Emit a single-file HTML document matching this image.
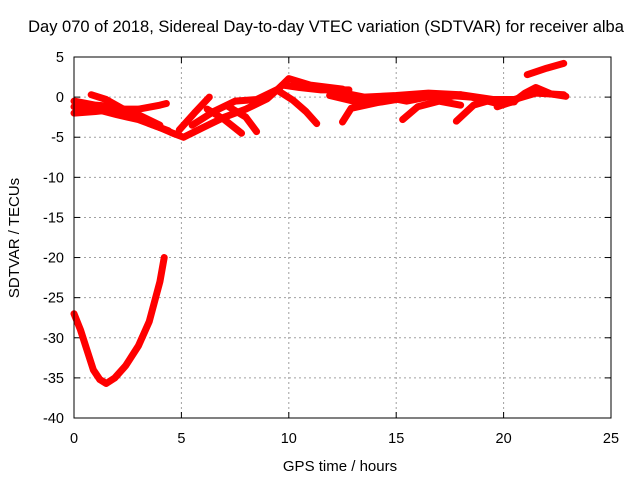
<!DOCTYPE html>
<html><head><meta charset="utf-8"><style>
html,body{margin:0;padding:0;background:#fff;}
svg{display:block;font-family:"Liberation Sans",sans-serif;}
</style></head><body>
<svg id="chart" width="640" height="480">
<text x="326" y="32" text-anchor="middle" font-size="16.5">Day 070 of 2018, Sidereal Day-to-day VTEC variation (SDTVAR) for receiver alba</text>
<text x="340" y="471" text-anchor="middle" font-size="15">GPS time / hours</text>
<text transform="translate(19,238) rotate(-90)" text-anchor="middle" font-size="15">SDTVAR / TECUs</text>
<g id="grid"></g><g id="ticks"></g><g id="marks"></g>
<rect x="74" y="57" width="537" height="361" fill="none" stroke="#000" stroke-width="1"/>
</svg>
<script>
const xTicks=[0,5,10,15,20,25];
const yTicks=[5,0,-5,-10,-15,-20,-25,-30,-35,-40];
const t1x=[0,0.3,0.6,0.9,1.2,1.5,1.9,2.4,3,3.5,4,4.2], t1y=[-27,-29,-31.5,-34,-35.2,-35.7,-35,-33.5,-31,-28,-23,-20];
const t2x=[0,1,2,3,4,4.6,5.1], t2y=[-1.2,-1.5,-2.2,-2.8,-3.8,-4.5,-5];
const t3x=[0,1,2,3,4,4.3], t3y=[-2,-1.8,-1.5,-1.5,-1,-0.8];
const t4x=[0.8,1.5,2.5,3.5,4.4], t4y=[0.3,-0.3,-1.8,-3.3,-4.2];
const t5x=[5.1,6,7,8,9,9.7,10.5,11.5,12.8], t5y=[-5,-3.8,-2.5,-1.5,-0.2,1.5,1.2,0.9,0.9];
const t6x=[5.5,6.5,7.5,8.5,9.5,10,11,12.5], t6y=[-3.5,-1.8,-0.5,-0.3,1,2.3,1.5,1];
const t7x=[4.9,5.6,6.3], t7y=[-4.1,-2,0];
const t8x=[6.2,7,7.8], t8y=[-1.5,-2.8,-4.5];
const t9x=[7.2,8,8.5], t9y=[-1.2,-2.5,-4.3];
const t10x=[9.5,10.2,10.8,11.3], t10y=[0.8,-0.4,-1.8,-3.3];
const t11x=[12.5,12.9,14.1,15,16,17,18], t11y=[-3.1,-1.4,-0.7,-0.3,0.3,-0.2,0.3];
const t12x=[11.9,13,14.5,15.5,17,18.5,19.7,20.5], t12y=[0.2,-0.5,0,-0.5,0.3,0,-0.8,-0.6];
const t13x=[15.3,16,17,18], t13y=[-2.8,-1.2,-0.5,-1];
const t14x=[17.8,18.6,19.5,20.5,21.5,22.8], t14y=[-3,-1,-0.3,-0.3,0.5,0.3];
const t15x=[19.7,20.5,21,21.5,22.2,22.9], t15y=[-1.2,-0.5,0.5,1.2,0.4,0.1];
const t16x=[21.1,22,22.8], t16y=[2.8,3.6,4.2];
const t17x=[0,1,2,3,4], t17y=[-0.5,-1.0,-1.2,-2.2,-3.5];
const t18x=[12,13.5,15,16.5,18,19.5], t18y=[0.8,0,0.2,0.5,0.3,-0.3];
const tracksX=[t1x,t2x,t3x,t4x,t5x,t6x,t7x,t8x,t9x,t10x,t11x,t12x,t13x,t14x,t15x,t16x,t17x,t18x];
const tracksY=[t1y,t2y,t3y,t4y,t5y,t6y,t7y,t8y,t9y,t10y,t11y,t12y,t13y,t14y,t15y,t16y,t17y,t18y];
const X0=74,X1=611,Y0=57,Y1=418,xmin=0,xmax=25,ymin=-40,ymax=5;
function sx(v){return X0+(v-xmin)/(xmax-xmin)*(X1-X0);}
function sy(v){return Y1-(v-ymin)/(ymax-ymin)*(Y1-Y0);}
const NS="http://www.w3.org/2000/svg";
const grid=document.getElementById('grid'),ticks=document.getElementById('ticks'),marks=document.getElementById('marks');
function mk(tag,attrs,parent){const e=document.createElementNS(NS,tag);for(const k in attrs)e.setAttribute(k,attrs[k]);parent.appendChild(e);return e;}
xTicks.forEach(v=>{
  const x=sx(v);
  if(v>xmin&&v<xmax){const g=mk('line',{x1:x,x2:x,y1:Y0,y2:Y1,stroke:'#a0a0a0','stroke-dasharray':'2,3'},grid);
  
  }
  const t=mk('text',{x:x,y:Y1+25,'text-anchor':'middle','font-size':'14.5'},ticks);t.textContent=v;
  
  
  mk('line',{x1:x,x2:x,y1:Y1,y2:Y1-6,stroke:'#000'},ticks);
  mk('line',{x1:x,x2:x,y1:Y0,y2:Y0+6,stroke:'#000'},ticks);
});
yTicks.forEach(v=>{
  const y=sy(v);
  if(v>ymin&&v<ymax){const g=mk('line',{x1:X0,x2:X1,y1:y,y2:y,stroke:'#a0a0a0','stroke-dasharray':'2,3'},grid);
  
  }
  const t=mk('text',{x:X0-10,y:y+5,'text-anchor':'end','font-size':'14.5'},ticks);t.textContent=v;
  
  
  mk('line',{x1:X0,x2:X0+6,y1:y,y2:y,stroke:'#000'},ticks);
  mk('line',{x1:X1,x2:X1-6,y1:y,y2:y,stroke:'#000'},ticks);
});
tracksX.forEach((xs,i)=>{
  const ys=tracksY[i];
  const pts=xs.map((x,j)=>sx(x)+','+sy(ys[j])).join(' ');
  const p=mk('polyline',{points:pts,fill:'none',stroke:'#ff0000','stroke-width':'7','stroke-linejoin':'round','stroke-linecap':'round'},marks);
  
  
});
</script>
</body></html>
